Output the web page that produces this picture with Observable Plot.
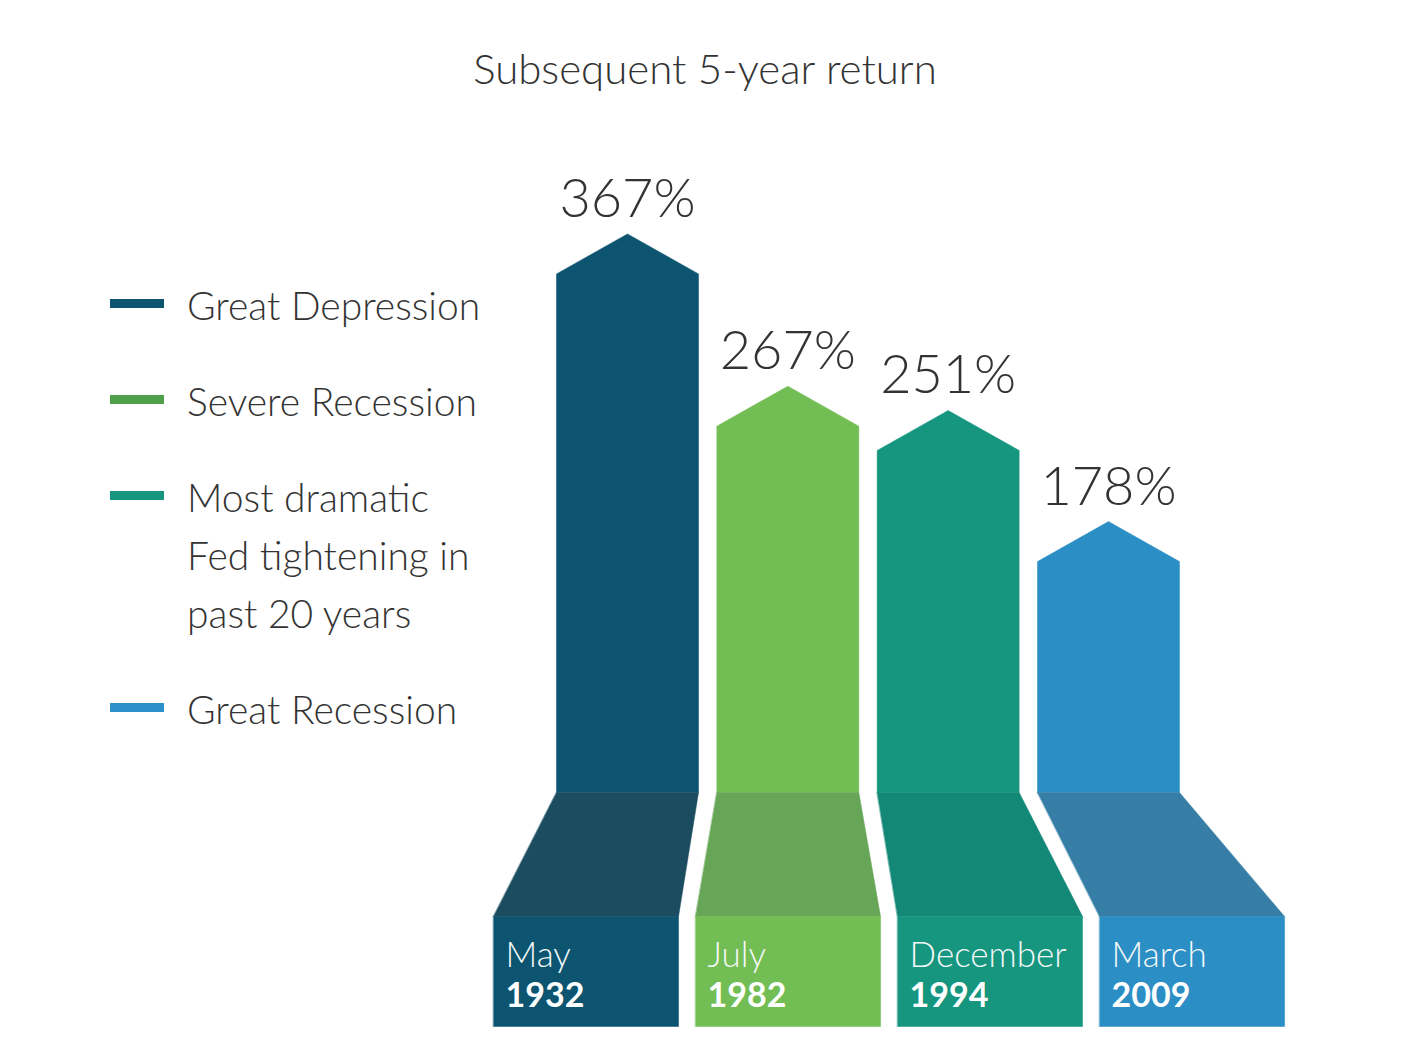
<!DOCTYPE html>
<html>
<head>
<meta charset="utf-8">
<script src="https://cdn.jsdelivr.net/npm/d3@7"></script>
<script src="https://cdn.jsdelivr.net/npm/@observablehq/plot@0.6"></script>
<style>
  html, body { margin: 0; padding: 0; background: #fff; }
  #wrap { position: relative; width: 1426px; height: 1042px; overflow: hidden; font-family: Lato, "Open Sans", sans-serif; color: #333; }
  #title { position: absolute; left: 0; top: 47px; width: 1410px; text-align: center; font-size: 42px; line-height: 1; font-weight: 300; color: #333; }
  #legend { position: absolute; left: 110px; top: 276px; }
  .item { display: flex; align-items: flex-start; margin-bottom: 38px; }
  .sw { width: 54px; height: 9px; margin-top: 23px; flex: none; }
  .lab { margin-left: 23px; font-size: 39px; line-height: 58px; font-weight: 300; color: #333; }
  #chart { position: absolute; left: 0; top: 130px; }
</style>
</head>
<body>
<div id="wrap">
  <div id="title"></div>
  <div id="legend"></div>
  <div id="chart"></div>
</div>
<script>
// ---- data ----
const titleText = "Subsequent 5-year return";
const categories = ["Great Depression", "Severe Recession", "Most dramatic Fed tightening in past 20 years", "Great Recession"];
const legendLines = [["Great Depression"], ["Severe Recession"], ["Most dramatic", "Fed tightening in", "past 20 years"], ["Great Recession"]];
const returns = [367, 267, 251, 178];
const months = ["May", "July", "December", "March"];
const years = ["1932", "1982", "1994", "2009"];
const barColors = ["#0c5470", "#72bd54", "#16967f", "#2b8ec4"];
const baseColors = ["#1c4c60", "#66a656", "#138877", "#367ea6"];
const legendColors = ["#0c5470", "#4ea04b", "#17957f", "#2d90c8"];

// ---- layout constants ----
const W = 1426, H = 912;
const zeroY = 662, k = 1.522;          // px per percentage point
const x0 = 627, step = 160.33;          // px of first bar center, px between bars
const bodyHalf = 71 / step;
const capU = 40 / k, trapU = 124 / k, boxU = 110 / k;
const persp = 1.26, pc = (786.5 - x0) / step, boxHalf = 92.5 / step;
const padX = 12 / step;

document.getElementById("title").textContent = titleText;
const legend = document.getElementById("legend");
legendLines.forEach((lines, i) => {
  const it = document.createElement("div"); it.className = "item";
  const sw = document.createElement("div"); sw.className = "sw"; sw.style.background = legendColors[i];
  const lab = document.createElement("div"); lab.className = "lab"; lab.innerHTML = lines.join("<br>");
  it.appendChild(sw); it.appendChild(lab); legend.appendChild(it);
});

const rows = returns.map((v, i) => ({
  i, v, cat: categories[i], month: months[i], year: years[i],
  bc: pc + persp * (i - pc)
}));

const shapes = [];
rows.forEach(r => {
  const {i, v, bc} = r;
  shapes.push({fill: barColors[i], pts: [[i - bodyHalf, 0], [i - bodyHalf, v - capU], [i, v], [i + bodyHalf, v - capU], [i + bodyHalf, 0]]});
  shapes.push({fill: baseColors[i], pts: [[i - bodyHalf, 0], [i + bodyHalf, 0], [bc + boxHalf, -trapU], [bc - boxHalf, -trapU]]});
  shapes.push({fill: barColors[i], pts: [[bc - boxHalf, -trapU], [bc + boxHalf, -trapU], [bc + boxHalf, -trapU - boxU], [bc - boxHalf, -trapU - boxU]]});
});

const marks = shapes.map(s => Plot.line(s.pts, {
  x: d => d[0], y: d => d[1], fill: s.fill, stroke: s.fill, strokeWidth: 0.5, curve: "linear-closed"
}));

marks.push(Plot.text(rows, {
  x: "i", y: "v", text: d => d.v + "%", dy: -17, lineAnchor: "bottom",
  fontSize: 54, fontWeight: 300, fill: "#333"
}));
marks.push(Plot.text(rows, {
  x: d => d.bc - boxHalf + padX, y: -trapU - 50 / k, text: "month", textAnchor: "start", lineAnchor: "bottom",
  fontSize: 35, fontWeight: 300, fill: "#f4f8f8"
}));
marks.push(Plot.text(rows, {
  x: d => d.bc - boxHalf + padX, y: -trapU - 90 / k, text: "year", textAnchor: "start", lineAnchor: "bottom",
  fontSize: 34, fontWeight: 700, fill: "#ffffff"
}));

const chart = Plot.plot({
  width: W, height: H,
  marginTop: 0, marginRight: 0, marginBottom: 0, marginLeft: 0,
  x: {type: "linear", domain: [0, returns.length - 1], range: [x0, x0 + (returns.length - 1) * step], axis: null},
  y: {type: "linear", domain: [(zeroY - H) / k, zeroY / k], range: [H, 0], axis: null},
  style: {fontFamily: "Lato, 'Open Sans', sans-serif", background: "transparent", overflow: "visible"},
  marks
});
document.getElementById("chart").appendChild(chart);
</script>
</body>
</html>
